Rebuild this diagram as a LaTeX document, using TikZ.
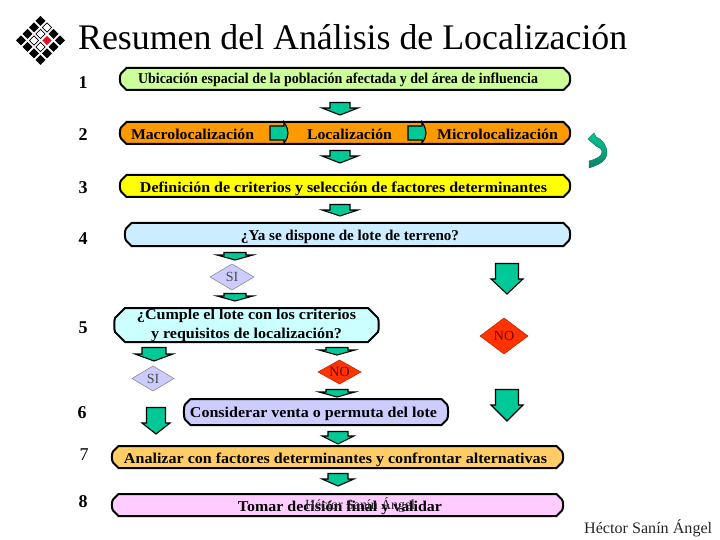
\documentclass[tikz,border=0pt]{standalone}
\usepackage{fontspec}
\usepackage{graphicx}
\setmainfont{Liberation Serif}
\definecolor{teal1}{HTML}{00C896}
\definecolor{teal2}{HTML}{0F7F63}
\definecolor{lav}{HTML}{CCCCFF}
\definecolor{redno}{HTML}{FF3300}
\definecolor{fillA}{HTML}{CCFF99}
\definecolor{fillB}{HTML}{FF9900}
\definecolor{fillC}{HTML}{FFFF00}
\definecolor{fillD}{HTML}{CCECFF}
\definecolor{fillE}{HTML}{CCFFFF}
\definecolor{fillF}{HTML}{CCCCFF}
\definecolor{fillG}{HTML}{FFCC66}
\definecolor{fillH}{HTML}{FFCCFF}
\definecolor{redlogo}{HTML}{E0102A}
\tikzset{
  boxline/.style={draw=black,line width=2pt,line join=miter},
  arrowline/.style={draw=black,line width=1.1pt,fill=teal1,line join=miter},
  numlab/.style={font=\fontsize{18}{18}\selectfont\bfseries,text=black,inner sep=0pt},
  boxtext/.style={font=\fontsize{15}{15}\selectfont\bfseries,text=black,inner sep=0pt},
  plaintext/.style={font=\fontsize{14}{14}\selectfont,inner sep=0pt},
  logocell/.style={fill=black}
}
% name, x0,y0,x1,y1, fill, chamfer, bow
\newcommand{\snipbox}[8]{%
  \path[boxline,fill=#6]
   ({#2+#7},#3) -- ({#4-#7},#3) -- (#4,{#3+#7})
   .. controls ({#4+#8},{#3+#7+2}) and ({#4+#8},{#5-#7-2}) .. (#4,{#5-#7})
   -- ({#4-#7},#5) -- ({#2+#7},#5) -- (#2,{#5-#7})
   .. controls ({#2-#8},{#5-#7-2}) and ({#2-#8},{#3+#7+2}) .. (#2,{#3+#7}) -- cycle;
  \coordinate (#1) at ({(#2+#4)/2},{(#3+#5)/2});
}
% name, xc, half wing, half shaft, y0, yshaft, y1
\newcommand{\blockdown}[7]{%
  \path[arrowline] ({#2-#4},#5) -- ({#2+#4},#5) -- ({#2+#4},#6) -- ({#2+#3},#6)
     -- (#2,#7) -- ({#2-#3},#6) -- ({#2-#4},#6) -- cycle;
  \coordinate (#1) at (#2,{(#5+#7)/2});
}
% name, x0, xwing, xtip
\newcommand{\blockright}[4]{%
  \path[arrowline] (#2,126) -- (#3,126) -- (#3,122) .. controls ({#4-1},127) and (#4,130) .. (#4,133)
     .. controls (#4,136) and ({#4-1},139) .. (#3,143) -- (#3,140) -- (#2,140) -- cycle;
  \coordinate (#1) at (#3,133);
}
% name, x, y, width, text
\newcommand{\fitnode}[5]{%
  \node[boxtext] (#1) at (#2,#3) {\resizebox{#4pt}{\height}{#5}};
}
% name, x0, y0, x1, y1, fill, line colour
\newcommand{\flatdia}[7]{%
  \path[fill=#6,draw=#7,line width=.5pt] (#2,{(#3+#5)/2}) -- ({(#2+#4)/2},#3) -- (#4,{(#3+#5)/2}) -- ({(#2+#4)/2},#5) -- cycle;
  \coordinate (#1) at ({(#2+#4)/2},{(#3+#5)/2});
}
\begin{document}
\begin{tikzpicture}[x=1pt,y=-1pt]
\useasboundingbox[fill=white] (0,0) rectangle (720,540);
% logo
\foreach \dx/\dy in {0/-3,-1/-2,-2/-1,2/-1,-3/0,3/0,-2/1,2/1,-1/2,1/2,0/3}{
  \fill[logocell] ({40.5+\dx*6.5},{40.5+\dy*6.5}) +(-5,0) -- +(0,-5) -- +(5,0) -- +(0,5) -- cycle;
}
\foreach \dx/\dy in {1/-2,0/-1,-1/0,0/1}{
  \filldraw[fill=white,draw=black,line width=.6pt] ({40.5+\dx*6.5},{40.5+\dy*6.5}) +(-4.6,0) -- +(0,-4.6) -- +(4.6,0) -- +(0,4.6) -- cycle;
}
\fill[redlogo] ({40.5+6.5},40.5) +(-4.7,0) -- +(0,-4.7) -- +(4.7,0) -- +(0,4.7) -- cycle;
% title
\node[anchor=base west,inner sep=0pt,font=\fontsize{36}{36}\selectfont] (title) at (78,50) {\resizebox{549pt}{\height}{Resumen del Análisis de Localización}};
% numbers
\node[numlab] (n1) at (83,83) {1};
\node[numlab] (n2) at (83,135) {2};
\node[numlab] (n3) at (83,188) {3};
\node[numlab] (n4) at (83,239) {4};
\node[numlab] (n5) at (83,328) {5};
\node[numlab] (n6) at (82,413) {6};
\node[numlab,font=\fontsize{18}{18}\selectfont] (n7) at (84,455) {7};
\node[numlab] (n8) at (83,502) {8};
% boxes
\snipbox{b1}{121}{68}{569}{90}{fillA}{5.5}{1.5}
\snipbox{b2}{121}{122}{569}{144}{fillB}{5.5}{1.5}
\snipbox{b3}{121}{175}{569}{197}{fillC}{5.5}{1.5}
\snipbox{b4}{126}{223}{569}{246}{fillD}{5.5}{1.5}
\snipbox{b5}{115}{308}{378}{342}{fillE}{10}{1}
\snipbox{b6}{185}{399}{447}{425}{fillF}{5.5}{1.5}
\snipbox{b7}{113}{446}{562}{468}{fillG}{5.5}{1.5}
\snipbox{b8}{113}{494}{562}{516}{fillH}{5.5}{1.5}
% arrows
\blockdown{a1}{340}{18}{10}{102.5}{108}{115}
\blockdown{a2}{340}{18}{10}{150.5}{156}{163}
\blockdown{a3}{340}{18}{10}{204.5}{210}{216}
\blockdown{a4}{235}{18}{11}{252.5}{255}{260}
\blockdown{a5}{235}{18}{11}{293.5}{296}{301}
\blockdown{a6}{154}{19}{12}{347.5}{354}{361}
\blockdown{a7}{337}{18}{11}{347.5}{350}{355}
\blockdown{a8}{337}{18}{11}{389.5}{392}{397}
\blockdown{a9}{507}{16}{11.5}{263.5}{279}{294}
\blockdown{a10}{507}{16}{11.5}{389.5}{405}{421}
\blockdown{a11}{156}{14}{9.5}{407.5}{423}{434}
\blockdown{a12}{338}{16}{10}{431.5}{436}{444}
\blockdown{a13}{338}{16}{10}{473.5}{479}{486}
\blockright{r1}{270}{284}{288}
\blockright{r2}{408}{422}{426}
% curved arrow
\path[top color=teal1,bottom color=teal2,draw=teal2,line width=.5pt]
  (588,139) -- (594,133) -- (596,137) .. controls (603,140) and (607,146) .. (607,153)
  .. controls (606,162) and (598,165) .. (589,168) -- (589,161)
  .. controls (597,159) and (602,156) .. (602,152) .. controls (602,149) and (599,147) .. (596,146) -- cycle;
% diamonds
\flatdia{d1}{210}{264}{254}{290}{lav}{gray}
\flatdia{d2}{132}{366}{174}{391}{lav}{gray}
\flatdia{d3}{318}{360}{361}{384}{redno}{redno!70!black}
\flatdia{d4}{480}{318}{528}{354}{redno}{redno!70!black}
\node[plaintext,text=black!70] (t1) at (d1) {SI};
\node[plaintext,text=black!70] (t2) at (d2) {SI};
\node[plaintext,text=red!45!black] (t3) at (d3) {NO};
\node[plaintext,text=red!45!black] (t4) at (d4) {NO};
% box labels
\fitnode{x1}{338}{79.5}{400}{Ubicación espacial de la población afectada y del área de influencia}
\fitnode{x2a}{192.5}{134}{123}{Macrolocalización}
\fitnode{x2b}{349.5}{134}{85}{Localización}
\fitnode{x2c}{497.5}{134}{121}{Microlocalización}
\fitnode{x3}{343.5}{189}{407}{Definición de criterios y selección de factores determinantes}
\fitnode{x4}{350}{236.5}{218}{¿Ya se dispone de lote de terreno?}
\fitnode{x5a}{246.5}{316}{219}{¿Cumple el lote con los criterios}
\fitnode{x5b}{246.5}{334.5}{191}{y requisitos de localización?}
\fitnode{x6}{313.5}{413.5}{247}{Considerar venta o permuta del lote}
\fitnode{x7}{335.5}{459.5}{423}{Analizar con factores determinantes y confrontar alternativas}
\fitnode{x8}{340}{507.5}{204}{Tomar decisión final y validar}
\node[inner sep=0pt,font=\fontsize{14}{14}\selectfont,text=black!85] (sm) at (360,505) {\resizebox{110pt}{\height}{Héctor Sanín Ángel}};
\node[anchor=base west,inner sep=0pt,font=\fontsize{16}{16}\selectfont,text=black!85] (foot) at (584,533) {\resizebox{128pt}{\height}{Héctor Sanín Ángel}};
\end{tikzpicture}
\end{document}
